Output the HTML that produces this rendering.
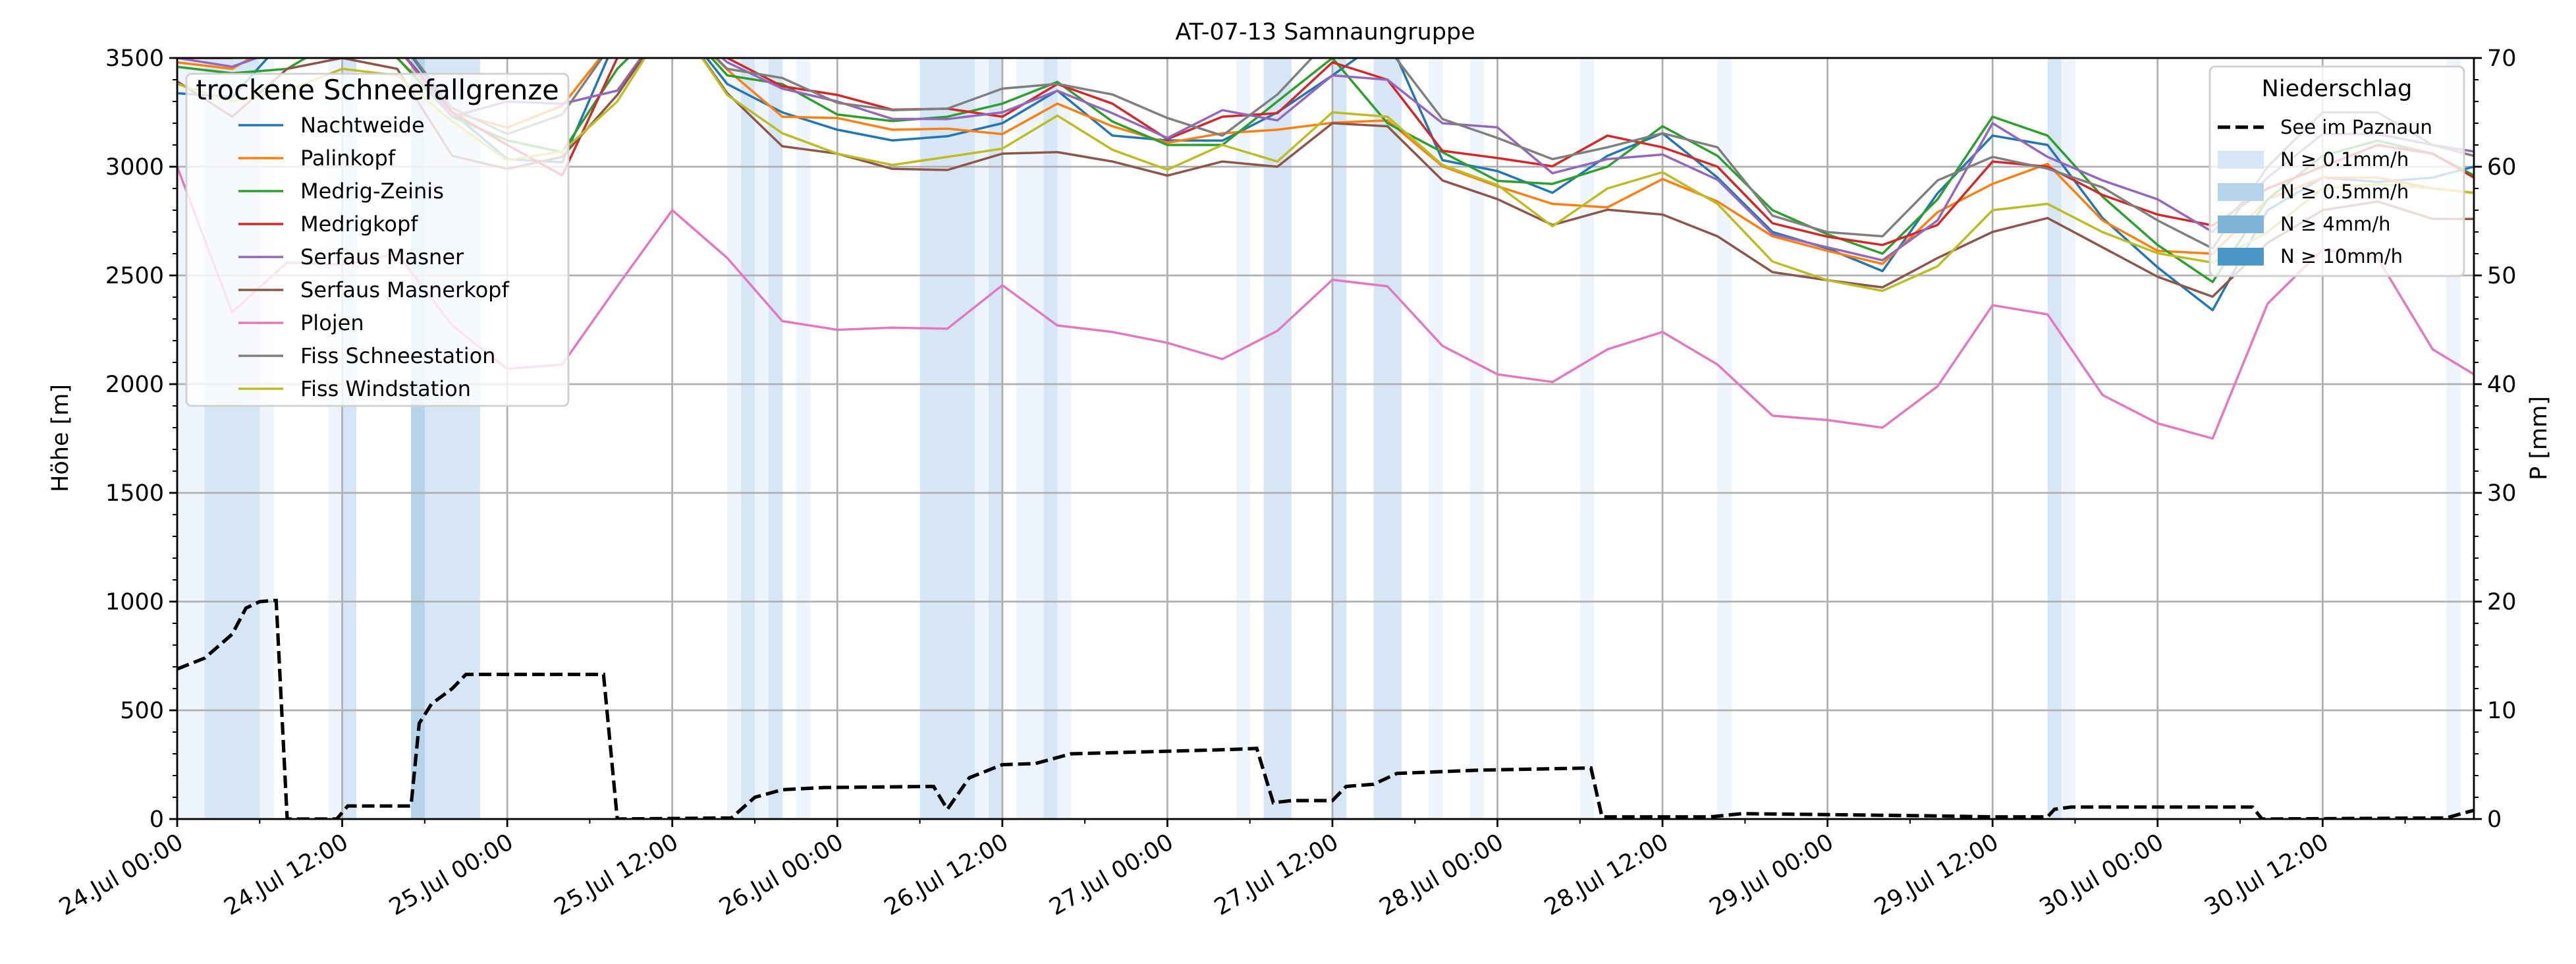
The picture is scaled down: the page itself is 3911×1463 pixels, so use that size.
<!DOCTYPE html>
<html><head><meta charset="utf-8"><style>
html,body{margin:0;padding:0;background:#fff;}
svg{display:block;font-family:"DejaVu Sans","Liberation Sans",sans-serif;}
</style></head><body>
<svg id="chart" xmlns="http://www.w3.org/2000/svg" width="3911" height="1463" viewBox="0 0 3911 1463">
<defs><clipPath id="plotclip"><rect x="269" y="88" width="3487" height="1155"/></clipPath></defs>
<g id="bands" clip-path="url(#plotclip)"></g>
<g id="grid"></g>
<g id="series" clip-path="url(#plotclip)"></g>
<g id="axes"></g>
<text x="2012" y="60" font-size="35" text-anchor="middle">AT-07-13 Samnaungruppe</text>
<text x="0" y="0" font-size="35" text-anchor="middle" transform="translate(103,665) rotate(-90)">Höhe [m]</text>
<text x="0" y="0" font-size="35" text-anchor="middle" transform="translate(3866,665) rotate(-90)">P [mm]</text>
<g id="legend1"></g>
<g id="legend2"></g>
</svg>
<script>
const hours = [0,4,8,12,16,20,24,28,32,36,40,44,48,52,56,60,64,68,72,76,80,84,88,92,96,100,104,108,112,116,120,124,128,132,136,140,144,148,152,156,160,164,167];
const nachtweide = [3338,3320,3600,3650,3600,3250,3035,3020,3600,3700,3380,3250,3170,3121,3140,3200,3350,3143,3121,3120,3250,3420,3600,3030,2980,2880,3050,3154,2950,2700,2624,2520,2878,3143,3100,2764,2537,2340,2800,2950,2930,2950,3000];
const palinkopf = [3480,3450,3600,3600,3500,3250,3180,3280,3600,3700,3446,3230,3224,3170,3175,3150,3290,3186,3110,3154,3170,3202,3213,3002,2910,2829,2813,2943,2840,2680,2613,2553,2791,2921,3013,2753,2613,2600,2850,2950,2950,2900,2880];
const medrigZeinis = [3459,3430,3450,3600,3500,3230,3121,3067,3450,3700,3420,3380,3240,3210,3230,3290,3390,3208,3100,3100,3300,3500,3200,3067,2935,2921,3000,3186,3050,2800,2689,2600,2850,3230,3143,2862,2640,2470,2850,3050,3120,3060,2960];
const medrigkopf = [3500,3500,3600,3600,3550,3250,3100,2960,3500,3700,3500,3370,3330,3262,3267,3230,3380,3290,3127,3230,3246,3480,3400,3073,3040,3002,3143,3089,3000,2740,2678,2640,2732,3024,3000,2870,2780,2730,2900,3000,3100,3060,2950];
const serfausMasner = [3500,3460,3550,3600,3550,3230,3300,3289,3350,3700,3480,3359,3300,3220,3219,3250,3349,3246,3132,3260,3213,3420,3400,3200,3181,2970,3035,3056,2940,2690,2629,2570,2753,3200,3045,2937,2850,2700,2950,3150,3150,3100,3070];
const serfausMasnerkopf = [3392,3230,3450,3500,3450,3050,2990,3045,3330,3700,3338,3094,3060,2990,2985,3060,3067,3024,2959,3024,3000,3200,3186,2937,2851,2732,2802,2780,2680,2515,2478,2445,2580,2700,2764,2629,2494,2402,2650,2800,2840,2760,2760];
const plojen = [3000,2330,2560,2550,2600,2270,2070,2090,2450,2800,2580,2290,2250,2260,2255,2455,2270,2240,2190,2115,2245,2480,2450,2176,2045,2010,2160,2240,2090,1855,1835,1800,1990,2363,2321,1950,1820,1750,2370,2620,2580,2160,2045];
const fissSchneestation = [3600,3500,3600,3650,3600,3270,3150,3240,3600,3700,3450,3408,3294,3260,3267,3359,3381,3332,3224,3143,3332,3600,3550,3219,3132,3035,3089,3154,3089,2775,2699,2680,2937,3045,2991,2905,2753,2624,3000,3250,3250,3100,3050];
const fissWindstation = [3381,3300,3350,3450,3420,3208,3030,3070,3300,3700,3330,3154,3060,3008,3045,3083,3235,3078,2986,3100,3024,3250,3230,3008,2916,2726,2900,2975,2829,2564,2478,2429,2542,2800,2829,2699,2602,2559,2700,2900,2920,2900,2880];
const seriesNames = ["Nachtweide","Palinkopf","Medrig-Zeinis","Medrigkopf","Serfaus Masner","Serfaus Masnerkopf","Plojen","Fiss Schneestation","Fiss Windstation"];
const seriesColors = ["#1f77b4","#ff7f0e","#2ca02c","#d62728","#9467bd","#8c564b","#e377c2","#7f7f7f","#bcbd22"];
const lakeHours = [0,2,4,5,6,7,7.2,8,11.6,12.4,17,17.6,18.5,20,21,31,32,40.3,42,44,47,55,56,57.6,60,62.4,65,71,76.7,78.5,79.7,81,84,85,87,88.7,94.7,102.8,103.6,111.5,113.8,127,132,136,136.5,137.7,150.9,151.6,165,166.4,167];
const lakeValues = [13.8,14.8,17,19.4,20,20.1,20.1,0,0,1.2,1.2,8.8,10.6,12,13.3,13.3,0,0.1,2,2.7,2.9,3,0.9,3.8,5,5.1,6,6.2,6.4,6.5,1.5,1.7,1.7,3,3.2,4.2,4.5,4.7,0.2,0.2,0.5,0.3,0.2,0.2,0.9,1.1,1.1,0,0.1,0.6,0.8];
const precipHours = [0,1,2,3,4,5,6,11,12,17,18,19,20,21,40,41,42,43,45,54,55,56,57,58,59,61,62,63,64,77,79,80,84,87,88,91,94,102,112,136,137,165];
const precipLevels = [0,0,1,1,1,1,0,0,1,2,1,1,1,1,0,1,0,1,0,1,1,1,1,0,1,0,0,1,0,0,1,1,1,1,1,0,0,0,0,1,0,0];
const yTicks = [0,500,1000,1500,2000,2500,3000,3500];
const y2Ticks = [0,10,20,30,40,50,60,70];
const xTickLabels = ["24.Jul 00:00","24.Jul 12:00","25.Jul 00:00","25.Jul 12:00","26.Jul 00:00","26.Jul 12:00","27.Jul 00:00","27.Jul 12:00","28.Jul 00:00","28.Jul 12:00","29.Jul 00:00","29.Jul 12:00","30.Jul 00:00","30.Jul 12:00"];

const L=269,R=3756,T=88,B=1243,HMAX=167,YMAX=3500,Y2MAX=70;
const bandColors=["#eef4fb","#d6e6f4","#b6d4e9","#7fb6d8","#4a98c9"];
function xs(h){return L+h*(R-L)/HMAX;}
function ys(v){return B-v*(B-T)/YMAX;}
function ys2(p){return B-p*(B-T)/Y2MAX;}
const NS="http://www.w3.org/2000/svg";
function mk(tag,attrs,parent){const e=document.createElementNS(NS,tag);for(const k in attrs)e.setAttribute(k,attrs[k]);parent.appendChild(e);return e;}

const gB=document.getElementById('bands');
precipHours.forEach((h,i)=>{
  const r=mk('rect',{x:xs(h),y:T,width:xs(h+1)-xs(h)+0.5,height:B-T,fill:bandColors[precipLevels[i]]},gB);
  
  
});

const gG=document.getElementById('grid');
for(let i=0;i<xTickLabels.length;i++){
  const x=xs(i*12);
  const l=mk('line',{x1:x,x2:x,y1:T,y2:B,stroke:'#b0b0b0','stroke-width':2.8},gG);
  
  
}
yTicks.forEach(v=>{
  const y=ys(v);
  const l=mk('line',{x1:L,x2:R,y1:y,y2:y,stroke:'#b0b0b0','stroke-width':2.8},gG);
  
  
});

const gS=document.getElementById('series');
const allSeries=[nachtweide,palinkopf,medrigZeinis,medrigkopf,serfausMasner,serfausMasnerkopf,plojen,fissSchneestation,fissWindstation];
allSeries.forEach((arr,si)=>{
  const pts=arr.map((v,i)=>xs(hours[i]).toFixed(1)+','+ys(v).toFixed(1)).join(' ');
  const p=mk('polyline',{points:pts,fill:'none',stroke:seriesColors[si],'stroke-width':3.5,'stroke-linejoin':'round'},gS);
  
  
});
const lakePts=lakeValues.map((v,i)=>xs(lakeHours[i]).toFixed(1)+','+ys2(v).toFixed(1)).join(' ');
const lk=mk('polyline',{points:lakePts,fill:'none',stroke:'#000','stroke-width':5.2,'stroke-dasharray':'19 8'},gS);



const gA=document.getElementById('axes');
mk('rect',{x:L,y:T,width:R-L,height:B-T,fill:'none',stroke:'#000','stroke-width':2.8},gA);
yTicks.forEach(v=>{
  const y=ys(v);
  mk('line',{x1:L-12,x2:L,y1:y,y2:y,stroke:'#000','stroke-width':2.8},gA);
  const t=mk('text',{x:L-20,y:y+12,'font-size':35,'text-anchor':'end'},gA);
  t.textContent=v;
  
  
});
for(let v=0;v<=YMAX;v+=100){ if(v%500) mk('line',{x1:L-7,x2:L,y1:ys(v),y2:ys(v),stroke:'#000','stroke-width':2},gA); }
y2Ticks.forEach(p=>{
  const y=ys2(p);
  mk('line',{x1:R,x2:R+12,y1:y,y2:y,stroke:'#000','stroke-width':2.8},gA);
  const t=mk('text',{x:R+20,y:y+12,'font-size':35,'text-anchor':'start'},gA);
  t.textContent=p;
  
  
});
for(let p=0;p<=Y2MAX;p+=2){ if(p%10) mk('line',{x1:R,x2:R+7,y1:ys2(p),y2:ys2(p),stroke:'#000','stroke-width':2},gA); }
xTickLabels.forEach((lab,i)=>{
  const x=xs(i*12);
  mk('line',{x1:x,x2:x,y1:B,y2:B+12,stroke:'#000','stroke-width':2.8},gA);
  mk('line',{x1:xs(i*12+6),x2:xs(i*12+6),y1:B,y2:B+7,stroke:'#000','stroke-width':2},gA);
  const t=mk('text',{x:x,y:B+45,'font-size':35,'text-anchor':'end',transform:'rotate(-30 '+x+' '+(B+22)+')'},gA);
  t.textContent=lab;
  
  
});

// legend 1
const g1=document.getElementById('legend1');
mk('rect',{x:283,y:112,width:580,height:504,rx:8,fill:'#fff','fill-opacity':0.8,stroke:'#d0d0d0','stroke-width':2.8},g1);
const lt=mk('text',{x:573,y:151,'font-size':41.5,'text-anchor':'middle'},g1);
lt.textContent='trockene Schneefallgrenze';


seriesNames.forEach((n,i)=>{
  const y=190+i*50;
  mk('line',{x1:362,x2:430,y1:y,y2:y,stroke:seriesColors[i],'stroke-width':3.5},g1);
  const t=mk('text',{x:456,y:y+11,'font-size':32},g1);
  t.textContent=n;
  
  
});
// legend 2
const g2=document.getElementById('legend2');
mk('rect',{x:3355,y:101,width:386,height:318,rx:8,fill:'#fff','fill-opacity':0.8,stroke:'#d0d0d0','stroke-width':2.8},g2);
const lt2=mk('text',{x:3548,y:146,'font-size':35,'text-anchor':'middle'},g2);
lt2.textContent='Niederschlag';


const leg2Labels=['See im Paznaun','N ≥ 0.1mm/h','N ≥ 0.5mm/h','N ≥ 4mm/h','N ≥ 10mm/h'];
leg2Labels.forEach((n,i)=>{
  const y=193+i*49;
  if(i===0) mk('line',{x1:3367,x2:3437,y1:y,y2:y,stroke:'#000','stroke-width':5.2,'stroke-dasharray':'19 8'},g2);
  else mk('rect',{x:3367,y:y-13,width:70,height:27,fill:bandColors[i]},g2);
  const t=mk('text',{x:3462,y:y+10,'font-size':29},g2);
  t.textContent=n;
  
  
});
</script>
</body></html>
